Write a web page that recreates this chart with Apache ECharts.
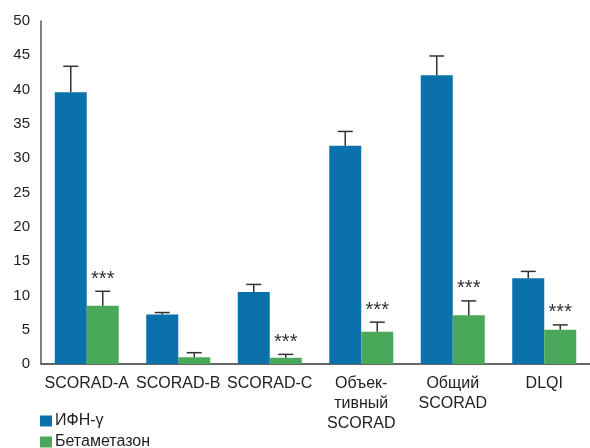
<!DOCTYPE html>
<html>
<head>
<meta charset="utf-8">
<script src="https://cdn.jsdelivr.net/npm/echarts@6/dist/echarts.min.js"></script>
<style>
  html, body { margin: 0; padding: 0; background: #fff; }
  #chart { width: 590px; height: 448px; }
</style>
</head>
<body>
<div id="chart"></div>
<script>
// Categories and measured values
const categories = ['SCORAD-A', 'SCORAD-B', 'SCORAD-C', 'Объек-\nтивный\nSCORAD', 'Общий\nSCORAD', 'DLQI'];
const seriesNames = ['ИФН-γ', 'Бетаметазон'];
const ifnValues = [39.6, 7.2, 10.5, 31.8, 42.1, 12.5];
const ifnErrTop = [43.4, 7.5, 11.6, 33.9, 44.9, 13.5];
const betaValues = [8.5, 1.0, 0.9, 4.7, 7.1, 5.0];
const betaErrTop = [10.6, 1.65, 1.4, 6.1, 9.2, 5.7];
const betaStars = ['***', '', '***', '***', '***', '***'];
const yTicks = { min: 0, max: 50, interval: 5 };

const BLUE = '#0a71ab';
const GREEN = '#4aa85b';
const BAR_W = 32;
const FONT = '"Liberation Sans", Arial, Helvetica, sans-serif';

function errorSeries(values, tops, stars, offset) {
  return {
    type: 'custom',
    coordinateSystem: 'cartesian2d',
    silent: true,
    z: 5,
    encode: { x: 0, y: 1 },
    data: values.map((v, i) => [i, v, tops[i]]),
    renderItem: function (params, api) {
      const i = api.value(0);
      const base = api.coord([i, api.value(1)]);
      const top = api.coord([i, api.value(2)]);
      const x = base[0] + offset;
      const style = { stroke: '#333', lineWidth: 1.5 };
      const children = [
        { type: 'line', shape: { x1: x, y1: base[1], x2: x, y2: top[1] }, style: style },
        { type: 'line', shape: { x1: x - 7.5, y1: top[1], x2: x + 7.5, y2: top[1] }, style: style }
      ];
      const star = stars ? stars[params.dataIndex] : '';
      if (star) {
        children.push({
          type: 'text',
          style: {
            text: star, x: x, y: top[1] - 12,
            align: 'center', verticalAlign: 'middle',
            fill: '#333', font: '20px ' + FONT
          }
        });
      }
      return { type: 'group', children: children };
    }
  };
}

// One legend block per row so the two entries stack in the bottom-left corner
function legendRow(name, top) {
  return {
    data: [name],
    left: 40,
    top: top,
    padding: 0,
    itemWidth: 12,
    itemHeight: 11,
    icon: 'rect',
    selectedMode: false,
    textStyle: { fontSize: 16, color: '#222', fontFamily: FONT, padding: [0, 0, 0, -2] }
  };
}

const chart = echarts.init(document.getElementById('chart'));
chart.setOption({
  animation: false,
  textStyle: { fontFamily: FONT },
  grid: { left: 41, right: -4, top: 21, bottom: 84, containLabel: false },
  legend: [legendRow(seriesNames[0], 413), legendRow(seriesNames[1], 434)],
  xAxis: {
    type: 'category',
    data: categories,
    axisLine: { lineStyle: { color: '#666', width: 2 } },
    axisTick: { show: false },
    axisLabel: { color: '#222', fontSize: 16, lineHeight: 20, margin: 10, interval: 0, verticalAlign: 'top' }
  },
  yAxis: {
    type: 'value',
    min: yTicks.min,
    max: yTicks.max,
    interval: yTicks.interval,
    axisLine: { show: true, lineStyle: { color: '#555', width: 1.5 } },
    axisTick: { show: false },
    splitLine: { show: false },
    axisLabel: { color: '#222', fontSize: 15, margin: 11 }
  },
  series: [
    { name: seriesNames[0], type: 'bar', data: ifnValues, barWidth: BAR_W, barGap: '0%', itemStyle: { color: BLUE } },
    { name: seriesNames[1], type: 'bar', data: betaValues, barWidth: BAR_W, barGap: '0%', itemStyle: { color: GREEN } },
    errorSeries(ifnValues, ifnErrTop, null, -BAR_W / 2),
    errorSeries(betaValues, betaErrTop, betaStars, BAR_W / 2)
  ]
});
</script>
</body>
</html>
